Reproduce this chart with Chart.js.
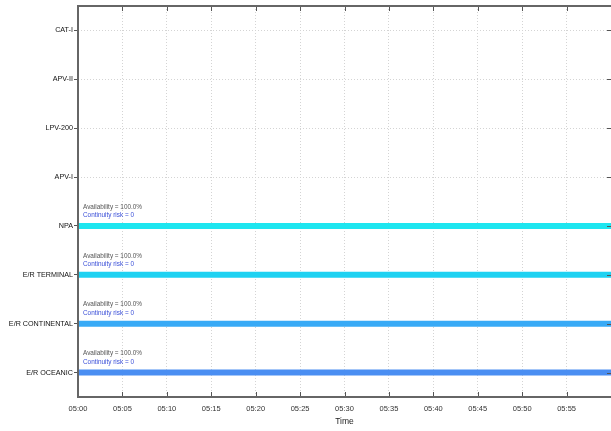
<!DOCTYPE html>
<html>
<head>
<meta charset="utf-8">
<script src="https://cdn.jsdelivr.net/npm/chart.js@4.4.1/dist/chart.umd.min.js"></script>
<style>
  html, body { margin: 0; padding: 0; background: #fff; }
  #wrap { width: 611px; height: 431px; }
</style>
</head>
<body>
<div id="wrap"><canvas id="chart" width="611" height="431"></canvas></div>
<script>
// Service levels, bottom to top
const levels = ["E/R OCEANIC", "E/R CONTINENTAL", "E/R TERMINAL", "NPA", "APV-I", "LPV-200", "APV-II", "CAT-I"];

// Time axis (minutes after 05:00)
const timeTicks = [0, 5, 10, 15, 20, 25, 30, 35, 40, 45, 50, 55, 60];
const timeLabels = ["05:00", "05:05", "05:10", "05:15", "05:20", "05:25", "05:30", "05:35", "05:40", "05:45", "05:50", "05:55", "06:00"];

// Available levels: start/end minute of the bar
const barLevels = ["E/R OCEANIC", "E/R CONTINENTAL", "E/R TERMINAL", "NPA"];
const barStart = [0, 0, 0, 0];
const barEnd = [60, 60, 60, 60];
const barColors = ["#4a8ef2", "#38aaf6", "#1fd2f2", "#1ee6f0"];

// Annotations above each bar
const availability = ["100.0%", "100.0%", "100.0%", "100.0%"];
const continuityRisk = ["0", "0", "0", "0"];

const datasets = barLevels.map((name, i) => ({
  label: name,
  data: [
    { x: barStart[i], y: levels.indexOf(name) },
    { x: barEnd[i], y: levels.indexOf(name) },
  ],
  borderColor: barColors[i],
  borderWidth: 6,
  pointRadius: 0,
  borderCapStyle: "butt",
  showLine: true,
}));

// inward ticks on time axis, outer frame, and annotation texts
const extrasPlugin = {
  id: "extras",
  afterDraw(chart) {
    const ctx = chart.ctx;
    const xs = chart.scales.x;
    const ys = chart.scales.y;
    const area = chart.chartArea;
    ctx.save();
    ctx.strokeStyle = "#555";
    ctx.lineWidth = 1;
    timeTicks.forEach((t) => {
      const px = Math.round(xs.getPixelForValue(t)) + 0.5;
      ctx.beginPath();
      ctx.moveTo(px, area.bottom);
      ctx.lineTo(px, area.bottom - 5);
      ctx.moveTo(px, area.top);
      ctx.lineTo(px, area.top + 5);
      ctx.stroke();
    });
    levels.forEach((l, i) => {
      const py = Math.round(ys.getPixelForValue(i)) + 0.5;
      ctx.beginPath();
      ctx.moveTo(area.right, py);
      ctx.lineTo(area.right - 4, py);
      ctx.stroke();
    });
    // frame
    ctx.strokeStyle = "#666";
    ctx.lineWidth = 2;
    ctx.beginPath();
    ctx.moveTo(area.right + 2, area.top);
    ctx.lineTo(area.left, area.top);
    ctx.lineTo(area.left, area.bottom);
    ctx.lineTo(area.right + 2, area.bottom);
    ctx.stroke();
    // annotations
    ctx.font = "6.4px 'Liberation Sans', sans-serif";
    ctx.textBaseline = "middle";
    ctx.textAlign = "left";
    barLevels.forEach((name, i) => {
      const py = ys.getPixelForValue(levels.indexOf(name));
      const px = xs.getPixelForValue(barStart[i]) + 5;
      ctx.fillStyle = "#555";
      ctx.fillText("Availability = " + availability[i], px, py - 19);
      ctx.fillStyle = "#3a4fd8";
      ctx.fillText("Continuity risk = " + continuityRisk[i], px, py - 10.5);
    });
    ctx.restore();
  },
};

new Chart(document.getElementById("chart"), {
  type: "scatter",
  data: { datasets },
  plugins: [extrasPlugin],
  options: {
    responsive: false,
    animation: false,
    layout: { padding: { top: 6, right: 0, bottom: 0, left: 0 } },
    plugins: {
      legend: { display: false },
      tooltip: { enabled: false },
    },
    scales: {
      x: {
        type: "linear",
        min: 0,
        max: 60,
        afterBuildTicks: (scale) => {
          scale.ticks = timeTicks.slice(0, 12).map((v) => ({ value: v }));
        },
        afterFit: (scale) => {
          scale.height = 34;
        },
        ticks: {
          callback: (v) => timeLabels[timeTicks.indexOf(v)],
          font: { family: "'Liberation Sans', sans-serif", size: 7.5 },
          color: "#333",
          maxRotation: 0,
          padding: 7,
        },
        grid: {
          color: "#d4d4d4",
          drawTicks: false,
          tickLength: 0,
        },
        border: { display: false, dash: [1, 2] },
        title: {
          display: true,
          text: "Time",
          font: { family: "'Liberation Sans', sans-serif", size: 8.5 },
          color: "#222",
          padding: { top: 0, bottom: 4 },
        },
      },
      y: {
        type: "linear",
        min: -0.5,
        max: 7.5,
        afterBuildTicks: (scale) => {
          scale.ticks = levels.map((l, i) => ({ value: i }));
        },
        afterFit: (scale) => {
          scale.width = 78;
        },
        ticks: {
          callback: (v) => levels[v],
          font: { family: "'Liberation Sans', sans-serif", size: 7.2 },
          color: "#111",
          padding: 1,
        },
        grid: {
          color: "#d4d4d4",
          tickColor: "#555",
          tickLength: 4,
        },
        border: { display: false, dash: [1, 2] },
      },
    },
  },
});
</script>
</body>
</html>
